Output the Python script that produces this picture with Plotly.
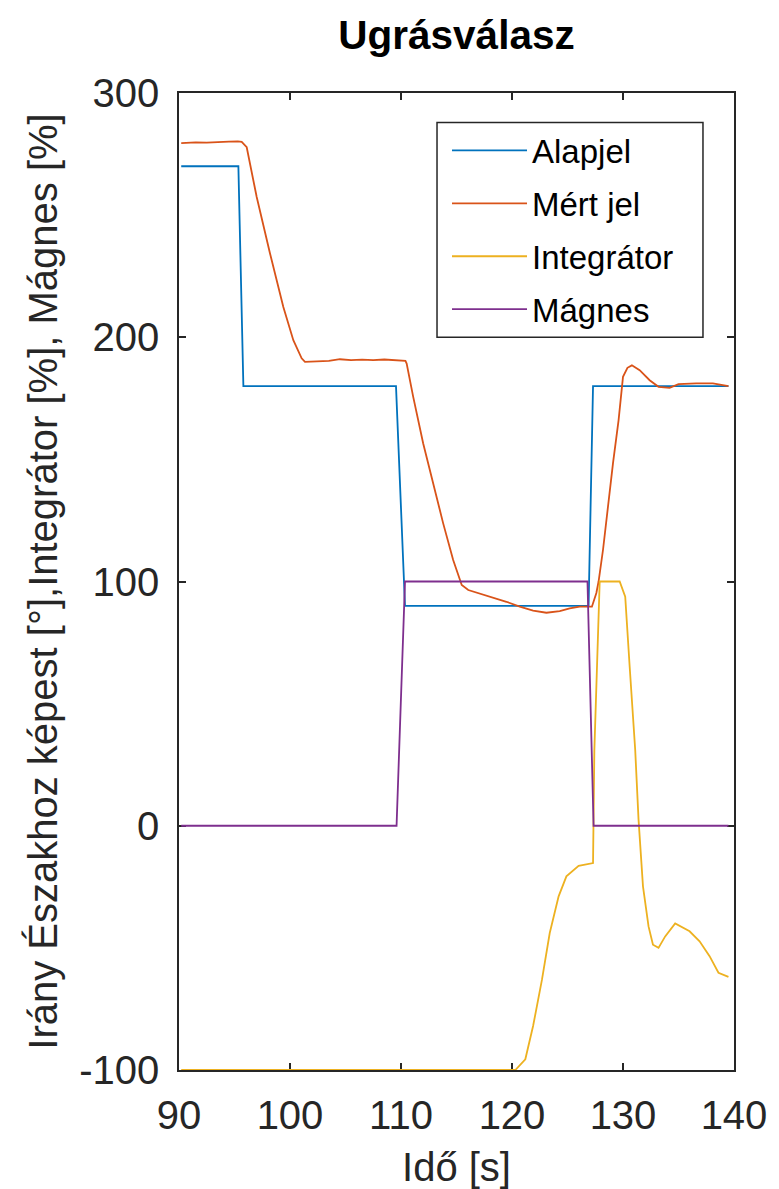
import plotly.graph_objects as go

# Step response of the heading controller (time in s)
alapjel_t = [90.2, 95.35, 95.8, 109.55, 110.36, 126.9, 127.3, 139.5]
alapjel_v = [270, 270, 180, 180, 90, 90, 180, 180]

mert_t = [90.2, 91.5, 92.5, 93.5, 94.5, 95.3, 95.65, 96.1, 97.0, 98.2, 99.4, 100.3,
          101.05, 101.35, 102.5, 103.5, 104.5, 105.5, 106.5, 107.5, 108.5, 109.5,
          110.4, 110.51, 111.1, 112.0, 112.9, 113.8, 114.7, 115.47, 116.06, 118.0,
          119.5, 120.7, 121.9, 123.1, 124.3, 125.2, 126.1, 127.2, 127.6, 127.8,
          128.2, 129.1, 129.6, 130.0, 130.4, 130.8, 131.5, 132.4, 133.2, 134.2,
          135.0, 136.6, 138.1, 139.5]
mert_v = [279.5, 279.8, 279.7, 280.0, 280.1, 280.2, 280.0, 277.8, 257.4, 234.3, 212.4,
          198.8, 191.4, 189.9, 190.1, 190.3, 191.0, 190.6, 190.8, 190.6, 190.9, 190.6,
          190.3, 189.2, 175.6, 156.5, 140.2, 123.8, 108.8, 98.6, 96.5, 93.8, 91.7, 89.7,
          88.1, 87.2, 87.9, 89.0, 89.7, 89.7, 95.3, 100.0, 113.0, 148.5, 166.0, 183.8,
          187.5, 188.5, 186.5, 182.4, 179.7, 179.3, 180.8, 181.1, 181.1, 180.0]

integ_t = [90.2, 120.3, 121.2, 121.9, 122.7, 123.4, 124.2, 124.9, 126.0, 127.3, 127.42,
           127.9, 129.7, 130.2, 130.6, 131.1, 131.4, 131.8, 132.3, 132.7, 133.2, 133.8,
           134.7, 136.0, 136.9, 137.8, 138.6, 139.5]
integ_v = [-100, -100, -95.6, -82, -63, -43.9, -28.9, -20.7, -16.4, -15.3, 31,
           100, 100, 93.8, 65.2, 31, 2.5, -24.8, -41.2, -48.7, -50, -45.3,
           -40, -43.2, -47.3, -53.4, -60.2, -61.9]

magnes_t = [90.2, 109.6, 110.36, 126.8, 127.35, 139.5]
magnes_v = [0, 0, 100, 100, 0, 0]

x_ticks = [90, 100, 110, 120, 130, 140]
y_ticks = [-100, 0, 100, 200, 300]
y_ticktext = ["-100", "0", "100", "200", "300"]

series = [
    ("Alapjel", alapjel_t, alapjel_v, "#0072BD"),
    ("Mért jel", mert_t, mert_v, "#D95319"),
    ("Integrátor", integ_t, integ_v, "#EDB120"),
    ("Mágnes", magnes_t, magnes_v, "#7E2F8E"),
]

FONT = "Liberation Sans, Arial, Helvetica, sans-serif"
AX = "#262626"

fig = go.Figure()
for name, t, v, col in series:
    fig.add_trace(go.Scatter(x=t, y=v, mode="lines", name=name, legendgroup=name,
                             line=dict(color=col, width=1.8)))

axis_common = dict(
    showgrid=False, zeroline=False, showline=True, mirror="ticks",
    linecolor=AX, linewidth=1.5, ticks="inside", ticklen=7, tickwidth=1.5,
    tickcolor=AX, tickfont=dict(family=FONT, size=40, color=AX),
    layer="below traces", automargin=False,
)

# frame around the legend entries
fig.add_shape(type="rect", xref="paper", yref="paper",
              x0=0.4649, x1=0.9441, y0=0.75, y1=0.9698,
              line=dict(color=AX, width=1.5), fillcolor="white", layer="above")

fig.update_layout(
    width=779, height=1189,
    margin=dict(l=179, r=45, t=92.5, b=118.5, autoexpand=False),
    paper_bgcolor="white", plot_bgcolor="white",
    title=dict(text="<b>Ugrásválasz</b>", x=0.586, xanchor="center", y=0.971, yanchor="middle",
               font=dict(family=FONT, size=40.5, color="black")),
    xaxis=dict(range=[90, 140], tickvals=x_ticks, ticklabelstandoff=9,
               title=dict(text="Idő [s]", font=dict(family=FONT, size=40, color=AX), standoff=20),
               **axis_common),
    yaxis=dict(range=[-100, 300], tickvals=y_ticks, ticktext=y_ticktext,
               title=dict(text="Irány Északhoz képest [°],Integrátor [%], Mágnes [%]",
                          font=dict(family=FONT, size=40, color=AX), standoff=9),
               ticklabelstandoff=10,
               **axis_common),
    legend=dict(x=0.4829, y=0.9698, xanchor="left", yanchor="top",
                bgcolor="rgba(0,0,0,0)", borderwidth=0,
                font=dict(family=FONT, size=33, color="black"),
                itemwidth=75, tracegroupgap=7),
    showlegend=True,
)

fig.write_html("out.html")
